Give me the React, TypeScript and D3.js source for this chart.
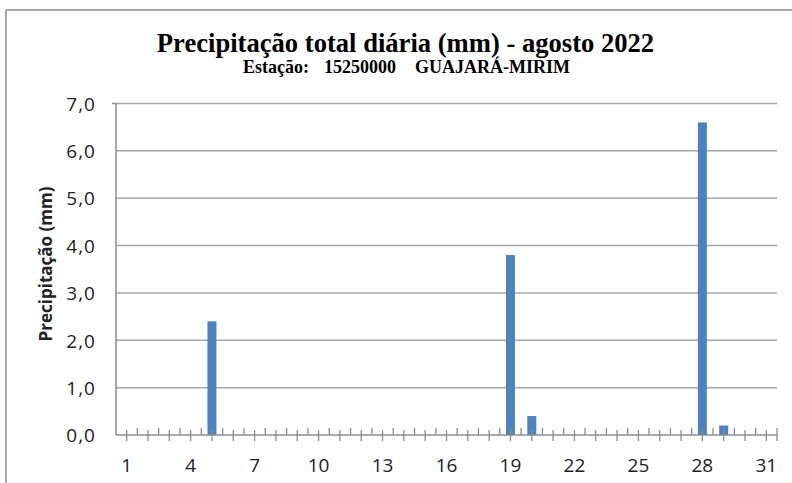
import React from "react";
import * as d3 from "d3";

const days: number[] = Array.from({ length: 31 }, (_, i) => i + 1);
const precipitation: number[] = [
  0, 0, 0, 0, 2.4, 0, 0, 0, 0, 0,
  0, 0, 0, 0, 0, 0, 0, 0, 3.8, 0.4,
  0, 0, 0, 0, 0, 0, 0, 6.6, 0.2, 0, 0,
];
const yTicks: number[] = [0, 1, 2, 3, 4, 5, 6, 7];
const xLabelDays: number[] = [1, 4, 7, 10, 13, 16, 19, 22, 25, 28, 31];
const title = "Precipitação total diária (mm) - agosto 2022";
const subtitleParts: string[] = ["Estação:", "15250000", "GUAJARÁ-MIRIM"];
const yTitle = "Precipitação (mm)";

export default function App() {
  const W = 792, H = 483;
  const left = 116, right = 777, top = 103.5, bottom = 435;
  const x = d3.scaleBand<number>().domain(days).range([left, right]).paddingInner(0).paddingOuter(0);
  const y = d3.scaleLinear().domain([0, 7]).range([bottom, top]);
  const bw = x.bandwidth();
  const barW = 9;
  const fmt = (v: number) => v.toFixed(1).replace(".", ",");
  const labelFont = "'Open Sans', 'Liberation Sans', sans-serif";
  const serif = "'Liberation Serif', 'Times New Roman', serif";
  const subX = [243, 324, 415];

  return (
    <svg width={W} height={H} style={{ position: "absolute", left: 0, top: 0, background: "#fff" }}>
      {/* outer frame */}
      <line x1={6} y1={10} x2={W} y2={10} stroke="#8c8c8c" strokeWidth={1.5} />
      <line x1={6} y1={10} x2={6} y2={H} stroke="#8c8c8c" strokeWidth={1.5} />

      {/* title */}
      <text x={405.5} y={52} textAnchor="middle" fontFamily={serif} fontWeight="bold" fontSize={26.6}>
        {title}
      </text>
      {subtitleParts.map((s, i) => (
        <text key={"s" + i} x={subX[i]} y={73} fontFamily={serif} fontWeight="bold" fontSize={18}>
          {s}
        </text>
      ))}

      {/* gridlines */}
      {yTicks.filter((t) => t > 0).map((t) => (
        <line key={"g" + t} x1={left} x2={right} y1={y(t)} y2={y(t)} stroke="#a6a6a6" strokeWidth={1.5} />
      ))}

      {/* y tick labels */}
      {yTicks.map((t) => (
        <text key={"yl" + t} x={96} y={y(t)} dy="0.38em" textAnchor="end" fontFamily={labelFont} fontSize={19} letterSpacing={1} fill="#222">
          {fmt(t)}
        </text>
      ))}

      {/* y axis title */}
      <text transform={`translate(52,${264}) rotate(-90)`} textAnchor="middle" fontFamily={labelFont} fontWeight="bold" fontSize={17} fill="#222">
        {yTitle}
      </text>

      {/* bars */}
      {days.map((d, i) => precipitation[i] > 0 ? (
        <rect key={"b" + d} x={(x(d) as number) + bw / 2 - barW / 2} y={y(precipitation[i])} width={barW} height={bottom - y(precipitation[i])} fill="#4f81bd" />
      ) : null)}

      {/* axes */}
      <line x1={left} x2={left} y1={top} y2={bottom} stroke="#8c8c8c" strokeWidth={1.5} />
      <line x1={left} x2={right} y1={bottom} y2={bottom} stroke="#8c8c8c" strokeWidth={1.5} />
      <line x1={left} x2={left - 4} y1={top} y2={top} stroke="#8c8c8c" strokeWidth={1.5} />

      {/* x ticks: category centers cross, boundaries inside */}
      {days.map((d) => {
        const cx = (x(d) as number) + bw / 2;
        return <line key={"tc" + d} x1={cx} x2={cx} y1={bottom - 5} y2={bottom + 6} stroke="#8c8c8c" strokeWidth={1.3} />;
      })}
      {days.slice(0, 30).map((d) => {
        const bx = (x(d) as number) + bw;
        return <line key={"tb" + d} x1={bx} x2={bx} y1={bottom - 7} y2={bottom} stroke="#8c8c8c" strokeWidth={1.3} />;
      })}
      <line x1={right} x2={right} y1={bottom - 7} y2={bottom + 6} stroke="#8c8c8c" strokeWidth={1.3} />

      {/* x labels */}
      {xLabelDays.map((d) => (
        <text key={"xl" + d} x={(x(d) as number) + bw / 2} y={472} textAnchor="middle" fontFamily={labelFont} fontSize={19} fill="#222">
          {d}
        </text>
      ))}
    </svg>
  );
}
